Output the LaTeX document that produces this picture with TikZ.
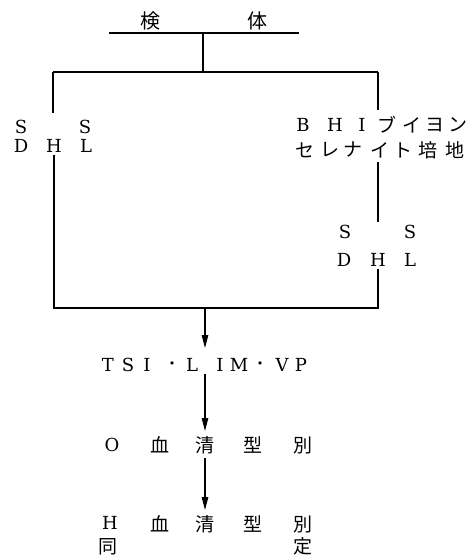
\documentclass[tikz,border=0pt]{standalone}
\usepackage{fontspec}
\setmainfont{DejaVu Serif}
\newfontfamily\cjk{Noto Sans CJK JP}
\usetikzlibrary{arrows.meta}
\begin{document}
\begin{tikzpicture}[x=1pt,y=-1pt,
  lt/.style={inner sep=0pt, font=\fontsize{18}{20}\selectfont},
  dt/.style={inner sep=0pt, font=\fontsize{11}{12}\selectfont},
  jp/.style={inner sep=0pt, font=\cjk\fontsize{19}{20}\selectfont},
  jh/.style={inner sep=0pt, font=\cjk\fontsize{20}{22}\selectfont},
  ln/.style={line width=1.2pt},
  arr/.style={line width=1.2pt, -{Triangle[length=13pt,width=6.5pt]}}]
\useasboundingbox (0,0) rectangle (470,557);
% title
\node[jh] (ken) at (150,21) {検};
\node[jh] (tai) at (257,21) {体};
\coordinate (tl) at (109,33);
\coordinate (tr) at (299,33);
\coordinate (tm) at (203,33);
\coordinate (bm) at (203,72);
\coordinate (bl) at (53,72);
\coordinate (br) at (378,72);
\draw[ln] (tl) -- (tr);
\draw[ln] (tm) -- (bm);
\draw[ln] (bl) -- (br);
% left SS/DHL
\node[lt] (ls1) at (21,127) {S};
\node[lt] (ls2) at (85,127) {S};
\node[lt] (ld)  at (21,146) {D};
\node[lt] (lh)  at (54,146) {H};
\node[lt] (ll)  at (86,146) {L};
\coordinate (lend) at (53,113);
\draw[ln] (bl) -- (lend);
% right BHI broth
\node[lt] (b1) at (303,125) {B};
\node[lt] (b2) at (335,125) {H};
\node[lt] (b3) at (362,125) {I};
\node[jp] (b4) at (387,125) {ブ};
\node[jp] (b5) at (412,125) {イ};
\node[jp] (b6) at (435,125) {ヨ};
\node[jp] (b7) at (458,125) {ン};
\node[jp] (c1) at (305,150) {セ};
\node[jp] (c2) at (330,150) {レ};
\node[jp] (c3) at (353,150) {ナ};
\node[jp] (c4) at (380,150) {イ};
\node[jp] (c5) at (403,150) {ト};
\node[jp] (c6) at (428,150) {培};
\node[jp] (c7) at (455,150) {地};
\coordinate (rend) at (378,110);
\coordinate (rbeg) at (378,162);
\coordinate (rend2) at (378,222);
\draw[ln] (br) -- (rend);
\draw[ln] (rbeg) -- (rend2);
% right SS/DHL
\node[lt] (rs1) at (345,232) {S};
\node[lt] (rs2) at (410,232) {S};
\node[lt] (rd)  at (344,260) {D};
\node[lt] (rh)  at (378,260) {H};
\node[lt] (rl)  at (410,260) {L};
% join
\coordinate (jl) at (54,308);
\coordinate (jr) at (378,308);
\coordinate (jm) at (205,308);
\draw[ln] ([yshift=-2pt]lh.south) -- (jl) -- (jr) -- ([yshift=-2pt]rh.south);
% TSI LIM VP
\node[lt] (t1) at (108,365) {T};
\node[lt] (t2) at (128,365) {S};
\node[lt] (t3) at (147,365) {I};
\node[dt] (t4) at (172,365) {•};
\node[lt] (t5) at (192,365) {L};
\node[lt] (t6) at (220,365) {I};
\node[lt] (t7) at (239,365) {M};
\node[dt] (t8) at (260,365) {•};
\node[lt] (t9) at (282,365) {V};
\node[lt] (t10) at (301,365) {P};
\coordinate (a1) at (205,348);
\draw[arr] (jm) -- (a1);
% O serotyping
\node[lt] (o1) at (112,445) {O};
\node[jp] (o2) at (160,445) {血};
\node[jp] (o3) at (205,445) {清};
\node[jp] (o4) at (253,445) {型};
\node[jp] (o5) at (303,445) {別};
\coordinate (a2s) at (205,374);
\coordinate (a2) at (205,431);
\draw[arr] (a2s) -- (a2);
% H serotyping
\node[lt] (h1) at (110,523) {H};
\node[jp] (h2) at (160,524) {血};
\node[jp] (h3) at (205,524) {清};
\node[jp] (h4) at (253,524) {型};
\node[jp] (h5) at (303,524) {別};
\node[jp] (h6) at (108,547) {同};
\node[jp] (h7) at (303,546) {定};
\coordinate (a3s) at (205,458);
\coordinate (a3) at (205,510);
\draw[arr] (a3s) -- (a3);
\end{tikzpicture}
\end{document}
